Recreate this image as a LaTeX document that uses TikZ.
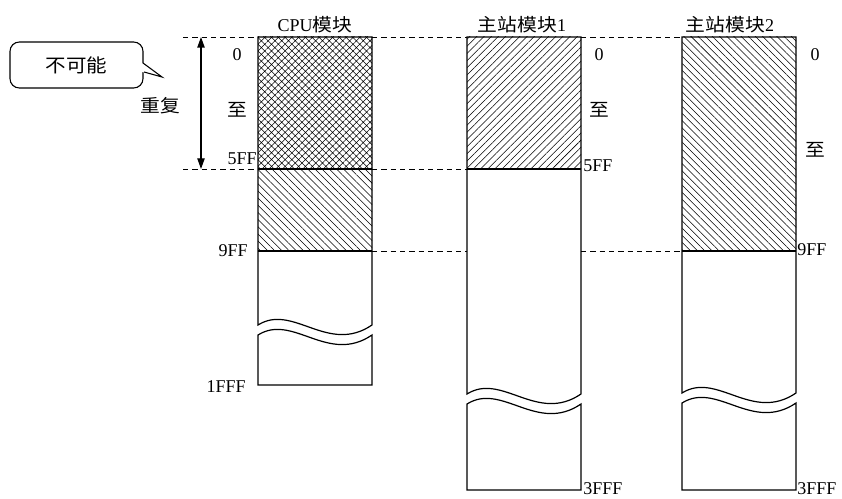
\documentclass[tikz,border=0pt]{standalone}
\usepackage{fontspec}
\setmainfont{Liberation Serif}
\newfontfamily\cjk[FakeStretch=1.1]{Noto Sans CJK SC}
\usetikzlibrary{arrows.meta,patterns.meta}

\tikzset{
	lbl/.style={font=\fontsize{13.5}{15}\selectfont, inner sep=0pt},
	blk/.style={draw, line width=0.9pt},
	guide/.style={line width=0.5pt, dash pattern=on 4pt off 3pt},
	bubble/.style={draw, line width=0.8pt, rounded corners=7pt, minimum width=99.75pt, minimum height=34.5pt, font=\fontsize{14}{16}\selectfont},
}

\begin{document}
\begin{tikzpicture}[x=0.75pt, y=-0.75pt, >={Triangle[length=8pt,width=5.5pt]}]
	\useasboundingbox (0,0) rectangle (842,499);
	
	% Hatched areas
	\fill[pattern={Hatch[angle=45,distance=3.6pt,line width=0.4pt]}] (258,37) rectangle (372,169);
	\fill[pattern={Lines[angle=-45,distance=3.8pt,line width=0.4pt]}] (258,169) rectangle (372,251);
	\fill[pattern={Lines[angle=45,distance=3.8pt,line width=0.4pt]}] (467,37) rectangle (581,169);
	\fill[pattern={Lines[angle=-45,distance=3.8pt,line width=0.4pt]}] (682,37) rectangle (796,251);
	
	% Blocks with break
	\foreach \l/\w/\b in {258/325/385, 467/394/490, 682/393/490} {
		\draw[blk] (\l,37) -- (\l,\w) .. controls (\l+35,\w-22) and (\l+70,\w+30) .. (\l+114,\w) -- (\l+114,37) -- cycle;
		\draw[blk] (\l,\w+10) .. controls (\l+35,\w-12) and (\l+70,\w+40) .. (\l+114,\w+10) -- (\l+114,\b) -- (\l,\b) -- cycle;
	}
	
	% Corners
	\coordinate (cpuNW) at (258,37);
	\coordinate (cpuNE) at (372,37);
	\coordinate (cpu5L) at (258,169);
	\coordinate (cpu5R) at (372,169);
	\coordinate (cpu9L) at (258,251);
	\coordinate (cpu9R) at (372,251);
	\coordinate (m1NW) at (467,37);
	\coordinate (m1NE) at (581,37);
	\coordinate (m15L) at (467,169);
	\coordinate (m15R) at (581,169);
	\coordinate (m19L) at (467,251);
	\coordinate (m19R) at (581,251);
	\coordinate (m2NW) at (682,37);
	\coordinate (m29L) at (682,251);
	\coordinate (m29R) at (796,251);
	\coordinate (g0) at (183,37);
	\coordinate (g1) at (183,169);
	
	\draw[blk] (cpu5L) -- (cpu5R);
	\draw[blk] (cpu9L) -- (cpu9R);
	\draw[blk] (m15L) -- (m15R);
	\draw[blk] (m29L) -- (m29R);
	
	% Dashed guides
	\draw[guide] (g0) -- (cpuNW);
	\draw[guide] (cpuNE) -- (m1NW);
	\draw[guide] (m1NE) -- (m2NW);
	\draw[guide] (g1) -- (cpu5L);
	\draw[guide] (cpu5R) -- (m15L);
	\draw[guide] (cpu9R) -- (m19L);
	\draw[guide] (m19R) -- (m29L);
	
	% Overlap arrow
	\coordinate (ov0) at (201,37);
	\coordinate (ov1) at (201,169);
	\draw[<->, line width=1pt] (ov0) -- (ov1);
	
	% Titles
	\node[lbl] (tcpu) at (315,25) {CPU{\cjk 模块}};
	\node[lbl] (tm1) at (522,25) {{\cjk 主站模块}1};
	\node[lbl] (tm2) at (730,25) {{\cjk 主站模块}2};
	
	% CPU addresses
	\node[lbl] (c0) at (237,55) {0};
	\node[lbl] (cto) at (237,110) {\cjk 至};
	\node[lbl, anchor=east] (c5) at (257,159) {5FF};
	\node[lbl, anchor=east] (c9) at (248,251) {9FF};
	\node[lbl, anchor=east] (c1f) at (246,387) {1FFF};
	
	% Master 1 addresses
	\node[lbl] (a0) at (599,55) {0};
	\node[lbl] (ato) at (599,110) {\cjk 至};
	\node[lbl, anchor=west] (a5) at (583,166) {5FF};
	\node[lbl, anchor=west] (a3) at (583,489) {3FFF};
	
	% Master 2 addresses
	\node[lbl] (b0) at (815,55) {0};
	\node[lbl] (bto) at (815,150) {\cjk 至};
	\node[lbl, anchor=west] (b9) at (797,250) {9FF};
	\node[lbl, anchor=west] (b3) at (797,489) {3FFF};
	
	\node[lbl] (dup) at (160,106) {\cjk 重复};
	
	% Callout
	\node[bubble] (nope) at (76.5,65) {\cjk 不可能};
	\fill[white] (142,63) -- (162,77) -- (142,72) -- cycle;
	\draw[line width=0.8pt] (143,63) -- (162,77) -- (144,72);
\end{tikzpicture}
\end{document}
